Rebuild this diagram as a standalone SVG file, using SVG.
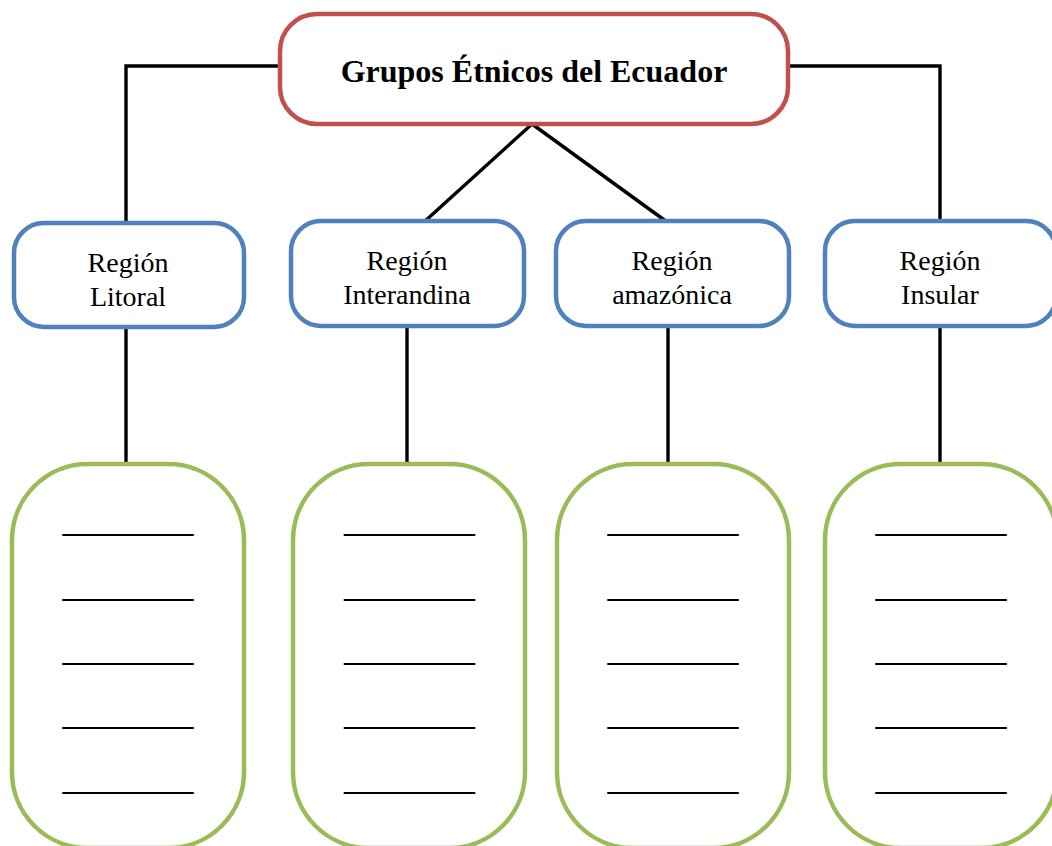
<svg xmlns="http://www.w3.org/2000/svg" width="1052" height="846" viewBox="0 0 1052 846">
<style>
.conn{fill:none;stroke:#000;stroke-width:3.4}
.top{fill:#fff;stroke:#C0504D;stroke-width:4.5}
.reg{fill:#fff;stroke:#4F81BD;stroke-width:4.5}
.grp{fill:#fff;stroke:#9BBB59;stroke-width:4.5}
.t{font-family:"Liberation Serif","Times New Roman",serif;fill:#000;text-anchor:middle}
.title{font-size:32px;font-weight:bold}
.rt{font-size:28px}
.us{font-size:37.4px}
</style>
<rect width="1052" height="846" fill="#fff"/>
<g id="connectors">
<path class="conn" d="M280,66 H126 V223"/>
<path class="conn" d="M788,66 H940 V222"/>
<path class="conn" d="M532,124 L424,222"/>
<path class="conn" d="M532,124 L667,222"/>
<path class="conn" d="M126,327 V464"/>
<path class="conn" d="M407,326 V464"/>
<path class="conn" d="M668,326 V464"/>
<path class="conn" d="M940,326 V464"/>
</g>
<g id="node-title">
<rect class="top" x="280" y="14" width="508" height="110" rx="37"/>
<text class="t title" x="534" y="82">Grupos Étnicos del Ecuador</text>
</g>
<g id="node-litoral">
<rect class="reg" x="14" y="223" width="230" height="104" rx="30"/>
<text class="t rt" x="128" y="272">Región</text>
<text class="t rt" x="128" y="306">Litoral</text>
</g>
<g id="node-interandina">
<rect class="reg" x="291" y="221" width="233" height="105" rx="30"/>
<text class="t rt" x="407" y="270">Región</text>
<text class="t rt" x="407" y="304">Interandina</text>
</g>
<g id="node-amazonica">
<rect class="reg" x="556" y="221" width="233" height="105" rx="30"/>
<text class="t rt" x="672" y="270">Región</text>
<text class="t rt" x="672" y="304">amazónica</text>
</g>
<g id="node-insular">
<rect class="reg" x="825" y="221" width="231" height="105" rx="30"/>
<text class="t rt" x="940" y="270">Región</text>
<text class="t rt" x="940" y="304">Insular</text>
</g>
<g id="list-litoral">
<rect class="grp" x="12" y="464" width="232" height="384" rx="76"/>
<text class="t us" x="128" y="531">_______</text>
<text class="t us" x="128" y="595.5">_______</text>
<text class="t us" x="128" y="660">_______</text>
<text class="t us" x="128" y="724">_______</text>
<text class="t us" x="128" y="789">_______</text>
</g>
<g id="list-interandina">
<rect class="grp" x="293" y="464" width="232" height="384" rx="76"/>
<text class="t us" x="409.5" y="531">_______</text>
<text class="t us" x="409.5" y="595.5">_______</text>
<text class="t us" x="409.5" y="660">_______</text>
<text class="t us" x="409.5" y="724">_______</text>
<text class="t us" x="409.5" y="789">_______</text>
</g>
<g id="list-amazonica">
<rect class="grp" x="557" y="464" width="232" height="384" rx="76"/>
<text class="t us" x="673" y="531">_______</text>
<text class="t us" x="673" y="595.5">_______</text>
<text class="t us" x="673" y="660">_______</text>
<text class="t us" x="673" y="724">_______</text>
<text class="t us" x="673" y="789">_______</text>
</g>
<g id="list-insular">
<rect class="grp" x="825" y="464" width="232" height="384" rx="76"/>
<text class="t us" x="941" y="531">_______</text>
<text class="t us" x="941" y="595.5">_______</text>
<text class="t us" x="941" y="660">_______</text>
<text class="t us" x="941" y="724">_______</text>
<text class="t us" x="941" y="789">_______</text>
</g>
</svg>
